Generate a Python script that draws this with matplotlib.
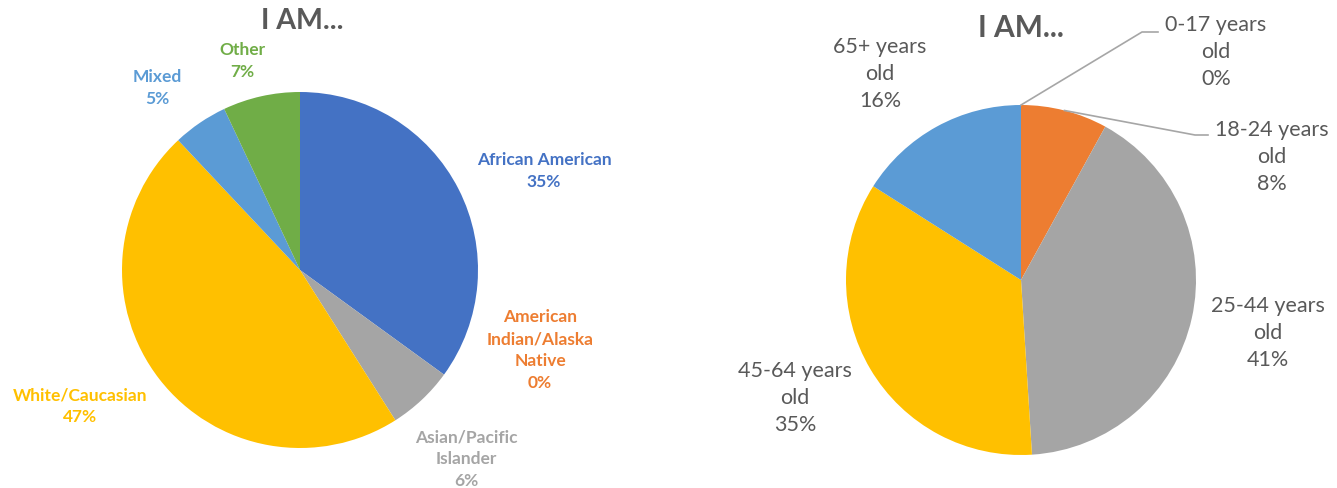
import numpy as np
import matplotlib
matplotlib.use("Agg")
from matplotlib import pyplot as plt

# left pie: ethnicity
eth_labels = ["African American", "American\nIndian/Alaska\nNative", "Asian/Pacific\nIslander",
              "White/Caucasian", "Mixed", "Other"]
eth_values = [35, 0, 6, 47, 5, 7]
eth_colors = ["#4472C4", "#ED7D31", "#A5A5A5", "#FFC000", "#5B9BD5", "#70AD47"]

# right pie: age
age_labels = ["0-17 years\nold", "18-24 years\nold", "25-44 years\nold", "45-64 years\nold", "65+ years\nold"]
age_values = [0, 8, 41, 35, 16]
age_colors = ["#4472C4", "#ED7D31", "#A5A5A5", "#FFC000", "#5B9BD5"]

W, H = 1337, 488
fig = plt.figure(figsize=(W / 100, H / 100), dpi=100)


def make_ax(x0, x1, cx, cy, r):
    ax = fig.add_axes([x0 / W, 0, (x1 - x0) / W, 1])
    def px(x, y):
        return (x - cx) / r, (cy - y) / r
    lims = ((x0 - cx) / r, (x1 - cx) / r), ((cy - H) / r, cy / r)
    return ax, px, lims


# ---- left
ax1, px1, lims1 = make_ax(0, 668, 300, 270, 178)
ax1.pie(eth_values, colors=eth_colors, startangle=90, counterclock=False, radius=1)
ax1.set_xlim(lims1[0]); ax1.set_ylim(lims1[1])
ax1.set_aspect("auto")
ax1.axis("off")

fs_l = 12.5
lpos = [(544, 171), (540, 350), (466, 459), (80, 406), (157, 88), (242, 61)]
for lab, v, c, (x, y) in zip(eth_labels, eth_values, eth_colors, lpos):
    ax1.text(*px1(x, y), "%s\n%d%%" % (lab, v), color=c, fontsize=fs_l, fontweight="bold",
             family="Lato", ha="center", va="center", linespacing=1.45)
ax1.text(*px1(302, 21), "I AM...", color="#595959", fontsize=20.5, fontweight="bold",
         family="Lato", ha="center", va="center")

# ---- right
ax2, px2, lims2 = make_ax(668, 1337, 1021, 280, 175)
ax2.pie(age_values, colors=age_colors, startangle=90, counterclock=False, radius=1)
ax2.set_xlim(lims2[0]); ax2.set_ylim(lims2[1])
ax2.set_aspect("auto")
ax2.axis("off")

fs_r = 15.5
rpos = [(1216, 52), (1272, 157), (1268, 333), (795, 398), (880, 74)]
for lab, v, (x, y) in zip(age_labels, age_values, rpos):
    ax2.text(*px2(x, y), "%s\n%d%%" % (lab, v), color="#595959", fontsize=fs_r,
             family="Lato", ha="center", va="center", linespacing=1.45)
ax2.text(*px2(1021, 28), "I AM...", color="#595959", fontsize=21.5, fontweight="bold",
         family="Lato", ha="center", va="center")

# leader lines for the two small slices
cum = np.cumsum([0] + age_values)
mids = 90 - 3.6 * (cum[:-1] + np.array(age_values) / 2)
for i, bend, end in [(0, (1142, 32), (1158, 32)), (1, (1195, 135), (1208, 135))]:
    a = np.deg2rad(mids[i])
    xs = [np.cos(a), px2(*bend)[0], px2(*end)[0]]
    ys = [np.sin(a), px2(*bend)[1], px2(*end)[1]]
    ax2.plot(xs, ys, color="#A6A6A6", lw=1.2)

fig.savefig("out.png", dpi=100)
